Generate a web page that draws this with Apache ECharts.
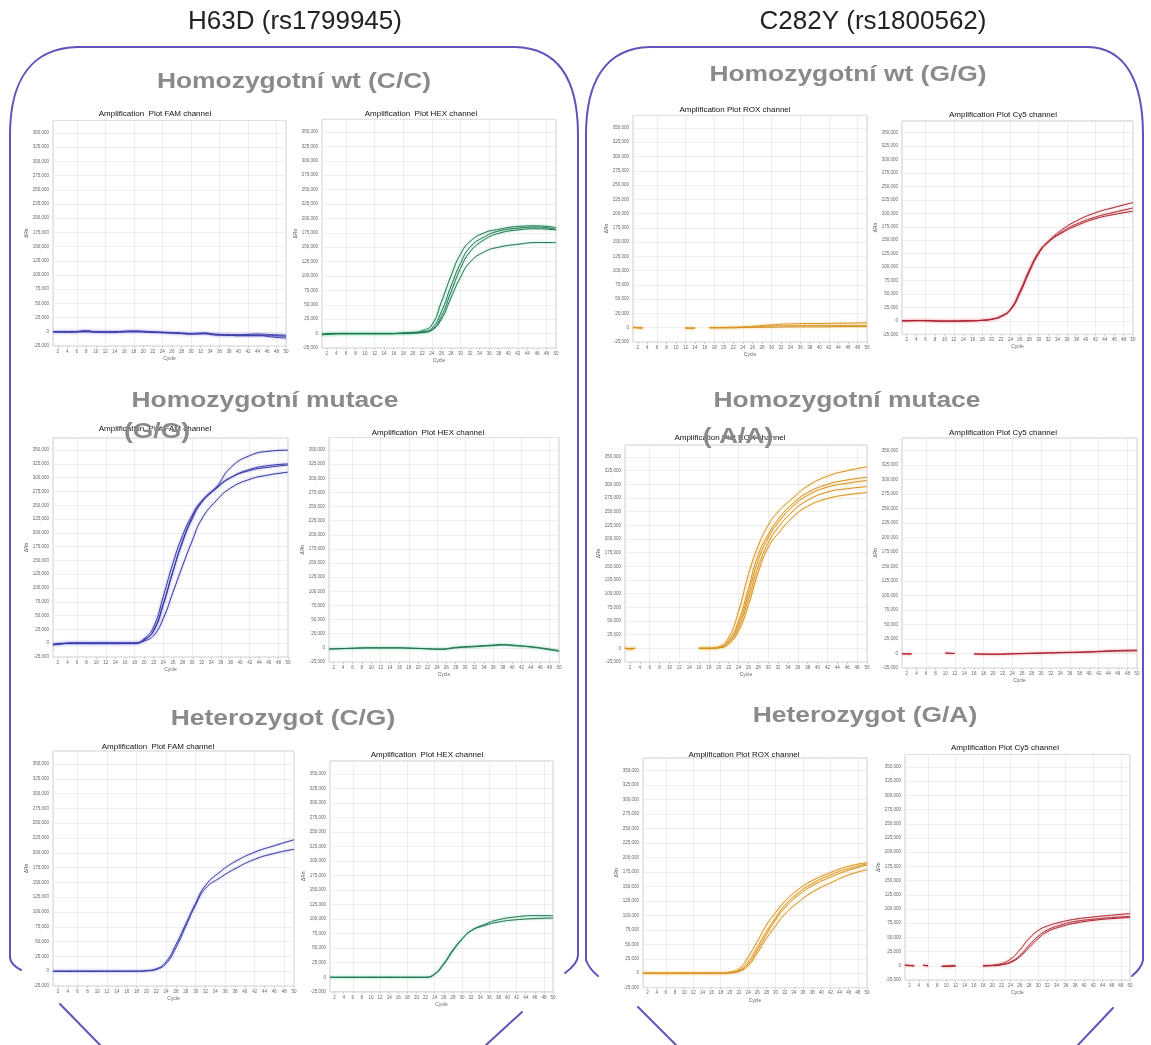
<!DOCTYPE html>
<html><head><meta charset="utf-8">
<script src="https://cdn.jsdelivr.net/npm/echarts@6/dist/echarts.min.js"></script>
<style>html,body{margin:0;padding:0;background:#fff}#c{width:1151px;height:1045px}</style>
</head><body><div id="c"></div>
<script>
// ---------- axis data ----------
const cycles = ['1','2','3','4','5','6','7','8','9','10','11','12','13','14','15','16','17','18','19','20','21','22','23','24','25','26','27','28','29','30','31','32','33','34','35','36','37','38','39','40','41','42','43','44','45','46','47','48','49','50'];
const yMin = -25000, yMax = 372000, yStep = 25000;

// ---------- sampled cycles ----------
const cycSig    = ['1','5','10','15','18','20','22','24','26','28','30','32','35','38','42','46','50'];
const cycFamWt  = ['1','5','8','10','13','18','22','25','28','30','33','35','38','40','44','47','50'];
const cycRoxWt  = ['1','2','3','4','12','13','14','15','17','20','25','30','35','40','45','50'];
const cycHexMut = ['1','5','10','15','20','25','28','32','36','38','40','44','47','50'];
const cycRoxMut = ['1','2','3','4','16','18','20','22','24','26','28','30','32','35','38','42','46','50'];
const cycCy5Mut = ['1','3','4','10','12','13','16','20','25','30','35','40','45','50'];
const cycCy5Het = ['1','3','4','5','6','7','9','12','13','18','20','22','24','26','28','30','32','35','38','42','46','50'];

// ---------- ΔRn values ----------
const famWt = [
  [0,0,2000,0,0,1500,0,-1000,-2000,-3000,-2000,-5000,-6000,-6000,-6000,-9000,-11000],
  [0,0,1000,0,-500,500,-500,-1500,-3000,-3500,-3000,-4000,-5000,-5000,-4000,-5000,-6000],
  [0,-500,0,-500,-500,0,-1000,-2000,-3000,-4000,-3500,-5500,-6000,-7000,-7000,-7000,-8000]
];
const hexWt = [
  [-2000,0,0,0,1000,2000,5000,15000,55000,100000,138000,160000,175000,181000,186000,187000,184000],
  [-2000,0,0,0,500,1500,3000,9000,38000,82000,122000,150000,168000,178000,183000,185000,181000],
  [-1000,0,0,0,500,1000,2500,7000,30000,72000,113000,142000,163000,174000,180000,182000,180000],
  [-1000,0,0,0,500,1000,2000,6000,25000,62000,98000,124000,142000,150000,155000,158000,158000]
];
const roxWt = [
  [1000,0,-1000,'-',-1000,-1500,-1000,'-',0,500,2000,5000,7000,7500,8000,8500],
  [500,0,-500,'-',-500,-1000,-500,'-',0,0,1000,3000,3500,4000,4000,4000],
  [0,0,0,'-',0,-500,0,'-',0,0,500,1000,1500,1500,2000,2000]
];
const cy5Wt = [
  [0,500,-500,0,1000,3000,9000,22000,55000,95000,128000,148000,170000,186000,201000,211000,220000],
  [0,500,-500,0,1000,3000,8000,21000,53000,93000,127000,147000,166000,180000,193000,202000,210000],
  [0,500,-500,0,1000,3000,8000,20000,51000,91000,125000,146000,164000,177000,190000,198000,204000]
];
const famMut = [
  [-3000,0,0,0,0,6000,24000,72000,130000,183000,225000,255000,282000,318000,340000,348000,350000],
  [-3000,0,0,0,0,8000,30000,85000,145000,195000,232000,258000,280000,300000,315000,322000,325000],
  [-2000,0,0,0,0,6000,22000,70000,130000,185000,228000,257000,282000,300000,313000,319000,323000],
  [-2000,0,0,0,0,4000,14000,45000,92000,140000,185000,225000,258000,281000,297000,305000,310000]
];
const hexMut = [
  [-2000,-1000,0,0,-1000,-2000,1000,3000,5000,6000,5000,2000,-1000,-5000],
  [-2000,-1000,0,0,-1000,-2500,0,2000,4000,5000,4000,1500,-2000,-6000]
];
const roxMut = [
  [0,-1000,0,'-',0,0,3000,20000,68000,135000,188000,225000,250000,275000,297000,315000,325000,332000],
  [0,-1000,0,'-',0,0,2000,15000,50000,110000,172000,208000,236000,265000,285000,300000,308000,313000],
  [0,-500,0,'-',0,0,2000,12000,44000,100000,162000,202000,230000,260000,280000,295000,302000,307000],
  [0,-500,0,'-',0,0,1000,10000,38000,90000,150000,193000,221000,251000,271000,286000,292000,296000],
  [0,-500,0,'-',0,0,1000,8000,32000,80000,140000,185000,210000,240000,260000,274000,281000,285000]
];
const cy5Mut = [
  [-500,-1000,'-',1000,0,'-',-1000,-1000,0,1000,2000,3000,5000,6000],
  [-500,-500,'-',500,0,'-',-500,-1500,-500,500,1500,2500,4000,4500]
];
const famHet = [
  [0,0,0,0,0,1000,4000,16000,45000,80000,115000,145000,168000,185000,201000,212000,222000],
  [0,0,0,0,0,500,3000,13000,40000,76000,112000,140000,158000,173000,189000,199000,206000]
];
const hexHet = [
  [0,0,0,0,0,0,0,5000,22000,45000,65000,80000,91000,99000,104000,106000,106000],
  [0,0,0,0,0,0,0,6000,24000,47000,66000,80000,89000,95000,99000,101000,102000]
];
const roxHet = [
  [0,0,0,0,0,2000,8000,28000,55000,83000,105000,124000,145000,160000,174000,185000,191000],
  [0,0,0,0,0,1000,5000,20000,45000,72000,96000,117000,139000,155000,170000,181000,189000],
  [0,0,0,0,0,1000,4000,16000,40000,67000,92000,113000,135000,151000,166000,178000,187000],
  [0,0,0,0,0,500,3000,13000,35000,60000,82000,102000,123000,140000,156000,170000,179000]
];
const cy5Het = [
  [1000,0,'-',1000,0,'-',-1000,0,'-',0,1000,4000,12000,28000,48000,62000,70000,77000,82000,86000,89000,92000],
  [1000,0,'-',1000,0,'-',-1000,0,'-',0,500,2000,7000,18000,36000,52000,63000,72000,78000,82000,85000,87000],
  [1000,0,'-',1000,0,'-',-1000,0,'-',0,500,2000,6000,16000,32000,48000,60000,69000,75000,80000,83000,85000]
];

// ---------- styles ----------
const channelStyle = {
  FAM: {color:'#34349c', shadow:'rgba(110,110,235,0.7)'},
  HEX: {color:'#1d6e4c', shadow:'rgba(80,200,145,0.7)'},
  ROX: {color:'#d38f1c', shadow:'rgba(248,195,105,0.8)'},
  Cy5: {color:'#a3202d', shadow:'rgba(240,120,130,0.7)'}
};

// ---------- layout ----------
const panels = [
  {title:'Amplification  Plot FAM channel', ch:'FAM', cyc:cycFamWt,  data:famWt,  tx:155,  ty:114, left:53,  top:120.5, width:233, height:225.5},
  {title:'Amplification  Plot HEX channel', ch:'HEX', cyc:cycSig,    data:hexWt,  tx:421,  ty:114, left:322, top:119.3, width:234, height:228.7},
  {title:'Amplification Plot ROX channel',  ch:'ROX', cyc:cycRoxWt,  data:roxWt,  tx:735,  ty:110, left:633, top:115.4, width:234, height:226.6},
  {title:'Amplification Plot Cy5 channel',  ch:'Cy5', cyc:cycSig,    data:cy5Wt,  tx:1003, ty:115, left:902, top:120.9, width:231, height:213.4},
  {title:'Amplification  Plot FAM channel', ch:'FAM', cyc:cycSig,    data:famMut, tx:155,  ty:429, left:53,  top:438,   width:235, height:219},
  {title:'Amplification  Plot HEX channel', ch:'HEX', cyc:cycHexMut, data:hexMut, tx:428,  ty:433, left:329, top:437.6, width:230, height:224.4},
  {title:'Amplification Plot ROX channel',  ch:'ROX', cyc:cycRoxMut, data:roxMut, tx:730,  ty:438, left:625, top:445,   width:242, height:217},
  {title:'Amplification Plot Cy5 channel',  ch:'Cy5', cyc:cycCy5Mut, data:cy5Mut, tx:1003, ty:433, left:902, top:438,   width:235, height:230},
  {title:'Amplification  Plot FAM channel', ch:'FAM', cyc:cycSig,    data:famHet, tx:158,  ty:747, left:53,  top:751,   width:241, height:235},
  {title:'Amplification  Plot HEX channel', ch:'HEX', cyc:cycSig,    data:hexHet, tx:427,  ty:755, left:330, top:761,   width:223, height:230.8},
  {title:'Amplification Plot ROX channel',  ch:'ROX', cyc:cycSig,    data:roxHet, tx:744,  ty:755, left:643, top:758,   width:224, height:229.7},
  {title:'Amplification Plot Cy5 channel',  ch:'Cy5', cyc:cycCy5Het, data:cy5Het, tx:1005, ty:748, left:905, top:754.5, width:225, height:225.5}
];

const headers = [
  {text:'H63D (rs1799945)', x:295, y:22},
  {text:'C282Y (rs1800562)', x:873, y:22}
];
const sections = [
  {text:'Homozygotní wt (C/C)', x:294, y:82},
  {text:'Homozygotní wt (G/G)', x:848, y:75},
  {text:'Homozygotní mutace', x:265, y:401},
  {text:'(G/G)', x:157, y:432},
  {text:'Homozygotní mutace', x:847, y:401},
  {text:'( A/A)', x:738, y:437},
  {text:'Heterozygot (C/G)', x:283, y:719},
  {text:'Heterozygot (G/A)', x:865, y:716}
];
// frame outline: straight lines and cubic curves
const frameLines = [
  [10,958,10,135],[78,47,515,47],[578,135,578,955],[60,1004,100,1045],[522,1012,486,1045],
  [586,960,586,135],[650,47,1088,47],[1143,135,1143,960],[638,1007,676,1045],[1113,1008,1078,1045]
];
const frameCurves = [
  [10,135,10,82,30,48,78,47],[515,47,560,48,578,82,578,135],[578,955,578,962,572,968,565,973],[10,958,11,963,15,967,21,970],
  [586,135,586,82,605,48,650,47],[1088,47,1126,48,1143,82,1143,135],[1143,960,1142,966,1138,971,1132,976],[586,960,588,966,592,971,598,976]
];

// ---------- build option ----------
const evenFn = (idx, val) => Number(val) % 2 === 0;
const gridFn = (idx, val) => Number(val) % 6 === 0;
const grids = [], xAxes = [], yAxes = [], series = [], graphics = [];

panels.forEach((p, i) => {
  grids.push({left:p.left, top:p.top, width:p.width, height:p.height, show:true,
    borderColor:'#c2c2c2', borderWidth:0.8, backgroundColor:'#ffffff'});
  xAxes.push({type:'category', gridIndex:i, data:cycles, boundaryGap:false,
    axisLine:{show:false, onZero:false},
    axisTick:{show:true, interval:evenFn, length:2, lineStyle:{color:'#aaa', width:0.5}},
    axisLabel:{interval:evenFn, fontSize:4.5, color:'#666', margin:3, fontFamily:'Liberation Sans'},
    splitLine:{show:true, interval:gridFn, lineStyle:{color:'#e6e6e6', width:0.7}},
    name:'Cycle', nameLocation:'middle', nameGap:10,
    nameTextStyle:{fontSize:5, color:'#666', fontFamily:'Liberation Sans'}});
  yAxes.push({type:'value', gridIndex:i, min:yMin, max:yMax, interval:yStep,
    axisLine:{show:false, onZero:false}, axisTick:{show:false},
    axisLabel:{fontSize:4.5, color:'#666', margin:4, fontFamily:'Liberation Sans',
      formatter: v => (v % yStep === 0 ? v.toLocaleString('en-US') : '')},
    splitLine:{show:true, lineStyle:{color:'#e6e6e6', width:0.7}},
    name:'ΔRn', nameLocation:'middle', nameGap:21, nameRotate:90,
    nameTextStyle:{fontSize:5, color:'#555', fontFamily:'Liberation Sans'}});
  const st = channelStyle[p.ch];
  p.data.forEach(vals => {
    series.push({type:'line', xAxisIndex:i, yAxisIndex:i,
      data: p.cyc.map((c, j) => [c, vals[j]]),
      smooth:0.5, symbol:'none', connectNulls:false, animation:false, silent:true,
      lineStyle:{color:st.color, width:1, shadowColor:st.shadow, shadowBlur:2.5}});
  });
  graphics.push({type:'text', x:p.tx, y:p.ty, z:50,
    style:{text:p.title, x:0, y:0, align:'center', verticalAlign:'middle',
      font:'8px "Liberation Sans"', fill:'#111'}});
});

const frameStyle = {stroke:'#6452b8', lineWidth:2, fill:null, lineCap:'round'};
frameLines.forEach(l => graphics.push({type:'line', z:40,
  shape:{x1:l[0], y1:l[1], x2:l[2], y2:l[3]}, style:frameStyle}));
frameCurves.forEach(c => graphics.push({type:'bezierCurve', z:40,
  shape:{x1:c[0], y1:c[1], cpx1:c[2], cpy1:c[3], cpx2:c[4], cpy2:c[5], x2:c[6], y2:c[7]}, style:frameStyle}));

headers.forEach(h => graphics.push({type:'text', x:h.x, y:h.y, z:60,
  style:{text:h.text, x:0, y:0, align:'center', verticalAlign:'middle',
    font:'26px "Liberation Sans"', fill:'#222'}}));

sections.forEach(s => graphics.push({type:'text', x:s.x, y:s.y, z:70, scaleX:1.2,
  style:{text:s.text, x:0, y:0, align:'center', verticalAlign:'middle',
    font:'bold 22px "Liberation Sans"', fill:'#8a8a8a'}}));

const chart = echarts.init(document.getElementById('c'), null, {renderer:'canvas'});
chart.setOption({
  backgroundColor:'#ffffff',
  animation:false,
  grid:grids, xAxis:xAxes, yAxis:yAxes, series:series,
  graphic:{elements:graphics}
});
</script>
</body></html>
